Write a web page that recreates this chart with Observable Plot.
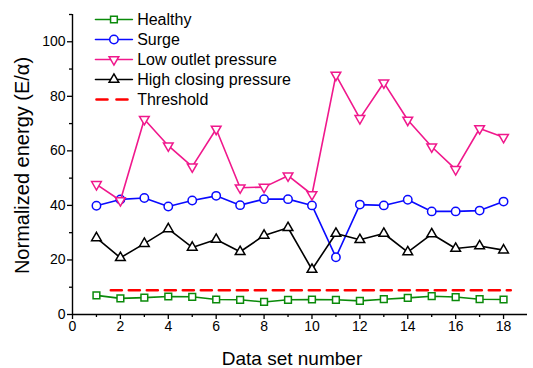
<!DOCTYPE html>
<html>
<head>
<meta charset="utf-8">
<script src="https://cdn.jsdelivr.net/npm/d3@7"></script>
<script src="https://cdn.jsdelivr.net/npm/@observablehq/plot@0.6"></script>
<style>
  html, body { margin: 0; padding: 0; background: #fff; }
  svg { font-family: "Liberation Sans", Arial, sans-serif; }
</style>
</head>
<body>
<div id="chart"></div>
<script>
const dataSets = [1,2,3,4,5,6,7,8,9,10,11,12,13,14,15,16,17,18];
const healthy = [7.0,5.9,6.2,6.6,6.5,5.5,5.4,4.6,5.4,5.5,5.4,5.0,5.6,6.1,6.7,6.4,5.6,5.5];
const surge = [39.9,42.2,42.7,39.6,41.8,43.5,40.1,42.3,42.3,40.0,21.0,40.3,40.0,42.1,37.8,37.8,38.1,41.4];
const lowOutlet = [47.7,41.8,71.6,61.9,54.2,68.0,46.5,46.7,50.9,44.0,87.8,71.9,85.0,71.3,61.5,53.2,68.2,65.0];
const highClosing = [28.1,20.8,26.0,31.4,24.6,27.5,23.0,29.0,31.8,16.5,29.7,27.4,29.7,22.9,29.5,24.2,25.1,23.6];
const thresholdValue = 8.9;
const thresholdRange = [1.6, 18.3];
const seriesNames = ["Healthy","Surge","Low outlet pressure","High closing pressure","Threshold"];
const xTicks = [0,2,4,6,8,10,12,14,16,18];
const xMinorTicks = [1,3,5,7,9,11,13,15,17];
const yTicks = [0,20,40,60,80,100];
const yMinorTicks = [10,30,50,70,90,110];

const triangleDown = {
  draw(context, size) {
    const y = -Math.sqrt(size / (Math.sqrt(3) * 3));
    context.moveTo(0, -2 * y);
    context.lineTo(-Math.sqrt(3) * y, y);
    context.lineTo(Math.sqrt(3) * y, y);
    context.closePath();
  }
};

const series = [
  {name: seriesNames[0], values: healthy, color: "#0a8a0a", symbol: "square", r: 3.8},
  {name: seriesNames[1], values: surge, color: "#0a0aff", symbol: "circle", r: 4.2},
  {name: seriesNames[2], values: lowOutlet, color: "#f0188c", symbol: triangleDown, r: 3.6},
  {name: seriesNames[3], values: highClosing, color: "#000000", symbol: "triangle", r: 3.6}
];

const marks = [];
for (const s of series) {
  const rows = dataSets.map((x, i) => ({x, y: s.values[i]}));
  marks.push(Plot.line(rows, {x: "x", y: "y", stroke: s.color, strokeWidth: 1.6}));
  marks.push(Plot.dot(rows, {x: "x", y: "y", stroke: s.color, fill: "white", strokeWidth: 1.5, symbol: s.symbol, r: s.r}));
}
const thresholdRows = thresholdRange.map(x => ({x, y: thresholdValue}));
marks.push(Plot.line(thresholdRows, {x: "x", y: "y", stroke: "#ff0000", strokeWidth: 2.6, strokeDasharray: "11,7"}));

// legend
const legendColors = ["#0a8a0a","#0a0aff","#f0188c","#000000","#ff0000"];
seriesNames.forEach((name, i) => {
  const dy = 5 + i * 20;
  const seg = [{x: 0.96, y: 110}, {x: 2.5, y: 110}];
  if (i < 4) {
    marks.push(Plot.line(seg, {x: "x", y: "y", dy, stroke: legendColors[i], strokeWidth: 1.6}));
    marks.push(Plot.dot([{x: 1.73, y: 110}], {x: "x", y: "y", dy, stroke: legendColors[i], fill: "white", strokeWidth: 1.5, symbol: series[i].symbol, r: series[i].r}));
  } else {
    marks.push(Plot.line(seg, {x: "x", y: "y", dy, stroke: legendColors[i], strokeWidth: 2.6, strokeDasharray: "11,9", strokeDashoffset: -1}));
  }
  marks.push(Plot.text([{x: 2.7, y: 110, t: name}], {x: "x", y: "y", text: "t", dy, textAnchor: "start", fontSize: 16, fill: "#000"}));
});

// axes
marks.push(Plot.ruleY([0], {stroke: "#000", strokeWidth: 1.4}));
marks.push(Plot.ruleX([0], {stroke: "#000", strokeWidth: 1.4}));
marks.push(Plot.axisX(xTicks, {tickSize: 5, tickPadding: 2, fontSize: 14, label: null, tickFormat: d => d, strokeWidth: 1.3}));
marks.push(Plot.axisX(xMinorTicks, {tickSize: 3, tickFormat: () => "", label: null, strokeWidth: 1.3}));
marks.push(Plot.axisY(yTicks, {tickSize: 5, tickPadding: 2, fontSize: 14, label: null, tickFormat: d => d, strokeWidth: 1.3}));
marks.push(Plot.axisY(yMinorTicks, {tickSize: 3, tickFormat: () => "", label: null, strokeWidth: 1.3}));

const chart = Plot.plot({
  width: 533,
  height: 368,
  marginLeft: 72,
  marginRight: 6,
  marginTop: 14,
  marginBottom: 54,
  x: {domain: [0, 19]},
  y: {domain: [0, 110]},
  style: {fontFamily: "'Liberation Sans', Arial, sans-serif", color: "#000", background: "#fff"},
  marks: [
    ...marks,
    Plot.text(["Data set number"], {frameAnchor: "bottom", dx: -8, dy: 50, fontSize: 19, fill: "#000"}),
    Plot.text(["Normalized energy (E/α)"], {frameAnchor: "left", textAnchor: "middle", dx: -50, dy: 1, rotate: -90, fontSize: 20, fill: "#000"})
  ]
});
document.getElementById("chart").appendChild(chart);
</script>
</body>
</html>
